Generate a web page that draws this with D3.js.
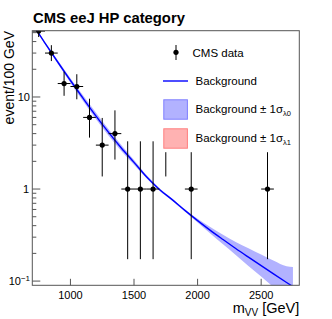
<!DOCTYPE html>
<html>
<head>
<meta charset="utf-8">
<script src="https://cdn.jsdelivr.net/npm/d3@7"></script>
<style>
  body { margin: 0; background: #fff; }
  svg { display: block; font-family: "Liberation Sans", Arial, sans-serif; }
</style>
</head>
<body>
<svg id="chart" width="332" height="319"></svg>
<script>
// data points (100 GeV bins), Garwood errors
const binCenters = [750, 850, 950, 1050, 1150, 1250, 1350, 1450, 1550, 1650, 1750, 1950, 2550];
const counts = [52, 30, 14, 13, 6, 3, 4, 1, 1, 1, 3, 1, 1];
const errLow = [7.2, 5.44, 3.7, 3.56, 2.38, 1.63, 1.91, 0.827, 0.827, 0.827, 1.63, 0.827, 0.827];
const errHigh = [8.3, 6.55, 4.83, 4.67, 3.58, 2.92, 3.16, 2.3, 2.3, 2.3, 2.92, 2.3, 2.3];

// background fit
const bkgMass = [700, 750, 800, 900, 1000, 1100, 1200, 1300, 1400, 1500, 1600, 1700,
  1800, 1900, 2000, 2100, 2200, 2300, 2400, 2500, 2600, 2700, 2750];
const bkgValue = [63.1, 49.0, 38.5, 24.0, 15.1, 9.66, 6.24, 4.12, 2.79, 1.95, 1.35, 0.99,
  0.767, 0.586, 0.454, 0.356, 0.283, 0.226, 0.182, 0.147, 0.119, 0.0966, 0.0871];
const bandLow = [61.4, 47.7, 37.5, 23.0, 14.3, 8.98, 5.75, 3.79, 2.59, 1.84, 1.30, 0.961,
  0.748, 0.570, 0.434, 0.328, 0.251, 0.192, 0.146, 0.112, 0.0852, 0.0646, 0.0562];
const bandHigh = [64.9, 50.4, 39.6, 25.0, 16.0, 10.4, 6.78, 4.47, 3.00, 2.07, 1.41, 1.02,
  0.787, 0.602, 0.475, 0.386, 0.319, 0.266, 0.227, 0.194, 0.166, 0.1445, 0.142];

const xTicks = [1000, 1500, 2000, 2500];
const yMajor = [0.1, 1, 10];

const svg = d3.select("#chart");
const pLeft = 32.3, pRight = 299.3, pTop = 30.7, pBottom = 285.3;

const x = d3.scaleLinear().domain([700, 2800]).range([pLeft, pRight]);
const y = d3.scaleLog().domain([0.09, 52.5]).range([pBottom, pTop]);

svg.append("defs").append("clipPath").attr("id", "clip")
  .append("rect").attr("x", pLeft).attr("y", pTop)
  .attr("width", pRight - pLeft).attr("height", pBottom - pTop);

const plot = svg.append("g").attr("clip-path", "url(#clip)");

// uncertainty band
const bandData = bkgMass.map((m, i) => ({ m: m, lo: bandLow[i], hi: bandHigh[i] }));
plot.append("path")
  .datum(bandData)
  .attr("fill", "#b2b2ff")
  .attr("d", d3.area()
    .x((d) => x(d.m))
    .y0((d) => y(d.lo))
    .y1((d) => y(d.hi))
    .curve(d3.curveMonotoneX));

// background line
plot.append("path")
  .datum(bkgMass.map((m, i) => ({ m: m, v: bkgValue[i] })))
  .attr("fill", "none")
  .attr("stroke", "#0000ff")
  .attr("stroke-width", 1.4)
  .attr("d", d3.line()
    .x((d) => x(d.m))
    .y((d) => y(d.v))
    .curve(d3.curveMonotoneX));

// data points
const pts = binCenters.map((c, i) => ({ c: c, n: counts[i], lo: counts[i] - errLow[i], hi: counts[i] + errHigh[i] }));
const pg = plot.append("g").attr("stroke", "#000").attr("stroke-width", 1);
pg.selectAll("line.v").data(pts).enter().append("line")
  .attr("x1", (d) => x(d.c)).attr("x2", (d) => x(d.c))
  .attr("y1", (d) => y(d.lo)).attr("y2", (d) => y(d.hi));
pg.selectAll("line.h").data(pts).enter().append("line")
  .attr("x1", (d) => x(d.c - 50)).attr("x2", (d) => x(d.c + 50))
  .attr("y1", (d) => y(d.n)).attr("y2", (d) => y(d.n));
pg.selectAll("circle").data(pts).enter().append("circle")
  .attr("cx", (d) => x(d.c)).attr("cy", (d) => y(d.n))
  .attr("r", 2.6).attr("fill", "#000").attr("stroke", "none");

// legend (white box hides part of the data)
const lg = svg.append("g");
lg.append("rect").attr("x", 158).attr("y", pTop + 0.5).attr("width", pRight - 158 - 0.5).attr("height", 121)
  .attr("fill", "#fff");
lg.append("line").attr("x1", 176).attr("x2", 176).attr("y1", 45).attr("y2", 60).attr("stroke", "#000");
lg.append("circle").attr("cx", 176).attr("cy", 52.3).attr("r", 2.6).attr("fill", "#000");
lg.append("line").attr("x1", 163).attr("x2", 188).attr("y1", 81).attr("y2", 81)
  .attr("stroke", "#0000ff").attr("stroke-width", 1.4);
lg.append("rect").attr("x", 163.8).attr("y", 99.8).attr("width", 23.6).attr("height", 19.4)
  .attr("fill", "#b2b2ff").attr("stroke", "#7f7fff");
lg.append("rect").attr("x", 163.8).attr("y", 128.8).attr("width", 23.6).attr("height", 19.4)
  .attr("fill", "#ffb2b2").attr("stroke", "#ff7f7f");

const legText = (xx, yy) => lg.append("text").attr("x", xx).attr("y", yy)
  .attr("font-size", 11.5).attr("fill", "#000");
legText(192.5, 56.5).text("CMS data");
legText(195.5, 84.5).text("Background");
const t1 = legText(195.5, 113);
t1.append("tspan").text("Background \u00b1 1\u03c3");
t1.append("tspan").attr("dy", 3).attr("font-size", 7.5).text("\u03bb0");
const t2 = legText(195.5, 142);
t2.append("tspan").text("Background \u00b1 1\u03c3");
t2.append("tspan").attr("dy", 3).attr("font-size", 7.5).text("\u03bb1");

// frame
svg.append("rect").attr("x", pLeft).attr("y", pTop).attr("width", pRight - pLeft).attr("height", pBottom - pTop)
  .attr("fill", "none").attr("stroke", "#555").attr("stroke-width", 1);

// x axis
const xg = svg.append("g");
xg.selectAll("line").data(xTicks).enter().append("line")
  .attr("x1", (d) => x(d)).attr("x2", (d) => x(d))
  .attr("y1", pBottom).attr("y2", pBottom - 6.5).attr("stroke", "#555");
xg.selectAll("text").data(xTicks).enter().append("text")
  .attr("x", (d) => x(d)).attr("y", 298.5).attr("text-anchor", "middle")
  .attr("font-size", 11).text((d) => d);

// y axis, major and minor ticks
const yMinor = [];
yMajor.forEach((p) => { for (let k = 1; k < 10; k++) yMinor.push(p * k); });
const yg = svg.append("g");
yg.selectAll("line").data(yMinor.filter((v) => v >= 0.09 && v <= 52.5)).enter().append("line")
  .attr("x1", pLeft).attr("x2", (d) => pLeft + (yMajor.includes(d) ? 8 : 4))
  .attr("y1", (d) => y(d)).attr("y2", (d) => y(d)).attr("stroke", "#555");
yg.append("text").attr("x", 30).attr("y", y(10) + 4).attr("text-anchor", "end").attr("font-size", 11).text("10");
yg.append("text").attr("x", 29).attr("y", y(1) + 4).attr("text-anchor", "end").attr("font-size", 11).text("1");
const tm = yg.append("text").attr("x", 30).attr("y", y(0.1) + 4).attr("text-anchor", "end").attr("font-size", 11);
tm.append("tspan").text("10");
tm.append("tspan").attr("dy", -4).attr("font-size", 8).text("\u22121");

// titles
svg.append("text").attr("x", 33).attr("y", 22.5).attr("font-size", 14.8).attr("font-weight", "bold")
  .text("CMS eeJ HP category");
svg.append("text").attr("transform", "translate(14,31) rotate(-90)").attr("text-anchor", "end")
  .attr("font-size", 14).text("event/100 GeV");
const xl = svg.append("text").attr("x", pRight).attr("y", 312.7).attr("text-anchor", "end").attr("font-size", 14.5);
xl.append("tspan").text("m");
xl.append("tspan").attr("dy", 3).attr("font-size", 10).text("VV");
xl.append("tspan").attr("dy", -3).text(" [GeV]");
</script>
</body>
</html>
